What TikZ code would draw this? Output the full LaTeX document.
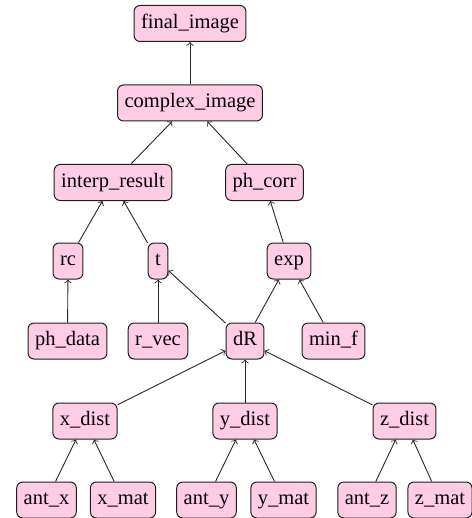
\documentclass[tikz,border=0pt]{standalone}
\usepackage{fontspec}
\setmainfont{LiberationSerif}[Extension=.ttf, UprightFont=*-Regular]
\usepackage{xcolor}
\usepackage{tikz}
\usetikzlibrary{positioning}

\tikzset{
  blk/.style={draw={rgb, 255:red, 30; green, 30; blue, 30 }, line width=0.5pt,
    fill={rgb, 255:red, 255; green, 204; blue, 229 }, rounded corners=3pt,
    inner xsep=3.5pt, inner ysep=0pt, minimum height=18pt,
    text height=7pt, text depth=2.2pt, font=\rmfamily\fontsize{10.25}{12}\selectfont},
  dep/.style={->, draw={rgb, 255:red, 40; green, 40; blue, 40 }, line width=0.45pt}
}

\begin{document}
\begin{tikzpicture}[x=0.5pt,y=0.5pt,yscale=-1]
  \useasboundingbox (0,0) rectangle (471,518);

  % Top nodes
  \node [blk] (finalimg) at (190,23.5) {final\_image};
  \node [blk] (cplximg) at (190,103) {complex\_image};
  \node [blk] (interp) at (113,182.5) {interp\_result};
  \node [blk] (phcorr) at (264.5,182.5) {ph\_corr};
  % Middle nodes
  \node [blk] (rc) at (68,261) {rc};
  \node [blk] (tt) at (158,261) {t};
  \node [blk] (expn) at (289,261) {exp};
  \node [blk] (phdata) at (67.5,341) {ph\_data};
  \node [blk] (rvec) at (158,341) {r\_vec};
  \node [blk] (dR) at (245,341) {dR};
  \node [blk] (minf) at (333.5,341) {min\_f};
  % Distance nodes
  \node [blk] (xdist) at (85,421) {x\_dist};
  \node [blk] (ydist) at (245,421) {y\_dist};
  \node [blk] (zdist) at (404.5,421) {z\_dist};
  % Bottom nodes
  \node [blk] (antx) at (46.5,500) {ant\_x};
  \node [blk] (xmat) at (123,500) {x\_mat};
  \node [blk] (anty) at (206.5,500) {ant\_y};
  \node [blk] (ymat) at (283.5,500) {y\_mat};
  \node [blk] (antz) at (367,500) {ant\_z};
  \node [blk] (zmat) at (440,500) {z\_mat};

  % Edges
  \draw [dep] (cplximg) -- (finalimg);
  \draw [dep] (interp) -- (cplximg);
  \draw [dep] (phcorr) -- (cplximg);
  \draw [dep] (rc) -- (interp);
  \draw [dep] (tt) -- (interp);
  \draw [dep] (expn) -- (phcorr);
  \draw [dep] (phdata) -- (rc);
  \draw [dep] (rvec) -- (tt);
  \draw [dep] (dR) -- (tt);
  \draw [dep] (dR) -- (expn);
  \draw [dep] (minf) -- (expn);
  \foreach \d in {xdist,ydist,zdist}
    \draw [dep] (\d) -- (dR);
  \draw [dep] (antx) -- (xdist);
  \draw [dep] (xmat) -- (xdist);
  \draw [dep] (anty) -- (ydist);
  \draw [dep] (ymat) -- (ydist);
  \draw [dep] (antz) -- (zdist);
  \draw [dep] (zmat) -- (zdist);
\end{tikzpicture}
\end{document}
